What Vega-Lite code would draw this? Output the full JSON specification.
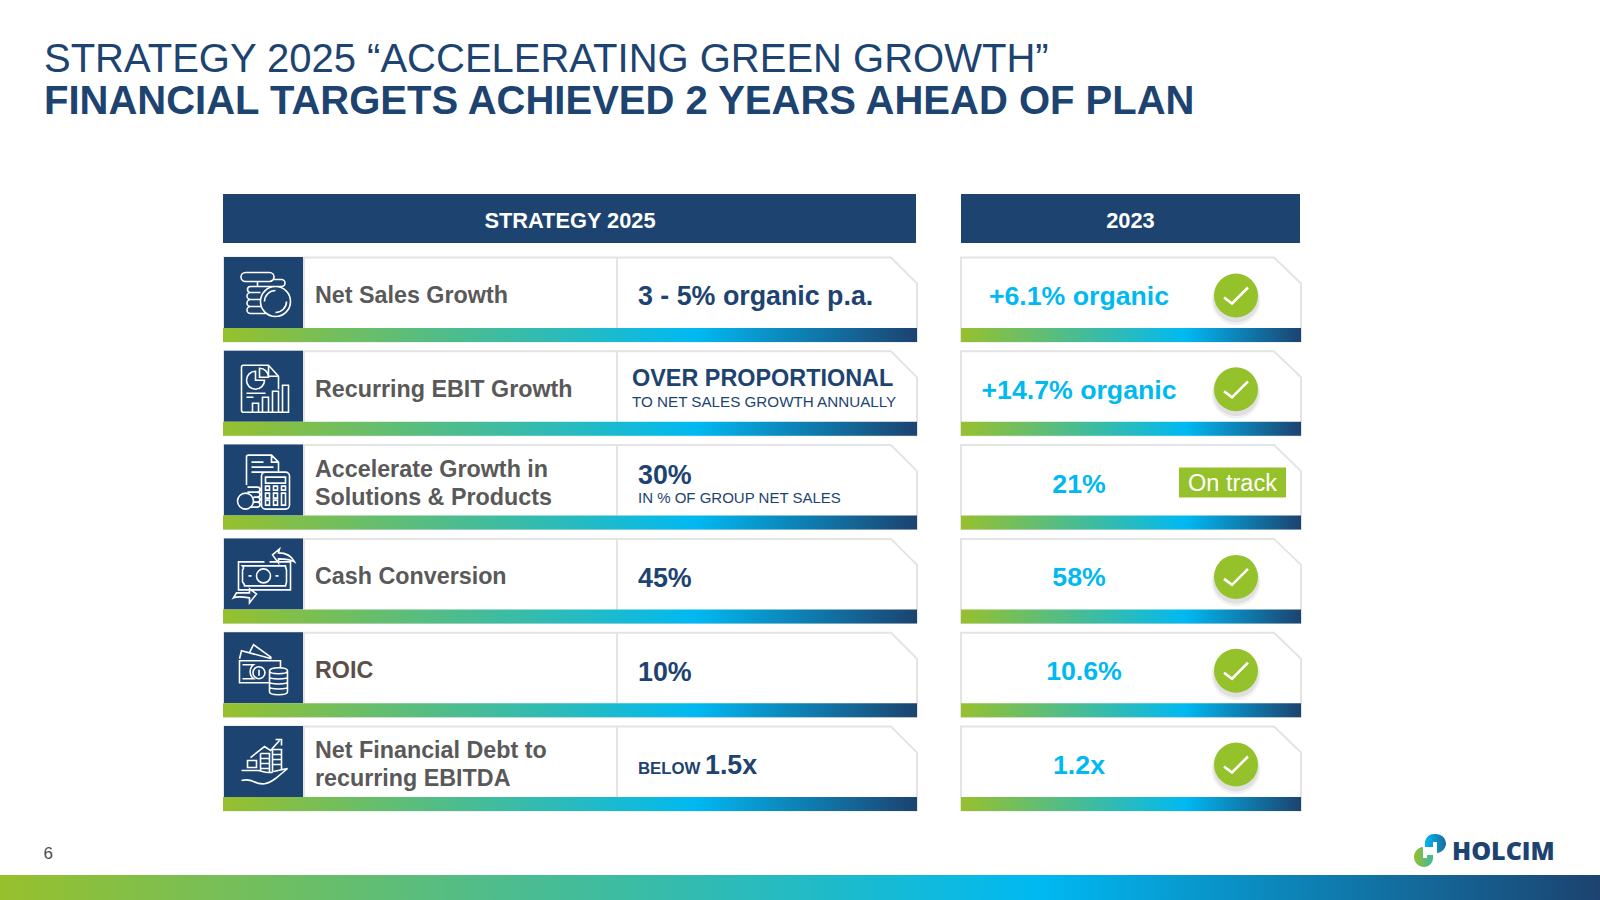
{
"$schema":"https://vega.github.io/schema/vega-lite/v6.json",
"width":1600,"height":900,"padding":0,"autosize":{"type":"none"},"background":"#ffffff",
"title":{"text":"STRATEGY 2025 “ACCELERATING GREEN GROWTH”","subtitle":"FINANCIAL TARGETS ACHIEVED 2 YEARS AHEAD OF PLAN","anchor":"start","frame":"group","orient":"top","dx":44,"offset":-122,"font":"Liberation Sans","fontSize":40,"fontWeight":"normal","color":"#1d4370","subtitleFont":"Liberation Sans","subtitleFontSize":40,"subtitleFontWeight":"bold","subtitleColor":"#1d4370","subtitlePadding":2},
"config":{"view":{"stroke":null},"text":{"font":"Liberation Sans"},"axis":{"grid":false}},
"datasets":{
"rows":[
{"metric":"Net Sales Growth","label":"Net Sales Growth","target":"3 - 5% organic p.a.","result":"+6.1% organic","status":"check"},
{"metric":"Recurring EBIT Growth","label":"Recurring EBIT Growth","target":"OVER PROPORTIONAL","note":"TO NET SALES GROWTH ANNUALLY","result":"+14.7% organic","status":"check"},
{"metric":"Accelerate Growth in Solutions & Products","label":"Accelerate Growth in\nSolutions & Products","target":"30%","note":"IN % OF GROUP NET SALES","result":"21%","status":"On track"},
{"metric":"Cash Conversion","label":"Cash Conversion","target":"45%","result":"58%","status":"check"},
{"metric":"ROIC","label":"ROIC","target":"10%","result":"10.6%","status":"check"},
{"metric":"Net Financial Debt to recurring EBITDA","label":"Net Financial Debt to\nrecurring EBITDA","prefix":"BELOW","target":"1.5x","result":"1.2x","status":"check"}
]},
"resolve":{"scale":{"y":"independent"}},
"layer":[
{"data":{"values":[{"kind":"slide"}]},
 "encoding":{"y":{"datum":875,"type":"quantitative","axis":null,"scale":{"domain":[0,900],"range":[0,900],"nice":false,"zero":false}}},
 "layer":[
  {"mark":{"type":"rect","fill":{"gradient":"linear","x1":0,"y1":0,"x2":1,"y2":0,"stops":[{"offset":0,"color":"#97c02d"},{"offset":0.65,"color":"#00b9f2"},{"offset":1,"color":"#1c4370"}]}},
   "encoding":{"x":{"datum":0,"type":"quantitative","axis":null,"scale":{"domain":[0,1600],"range":[0,1600],"nice":false,"zero":false}},"x2":{"datum":1600},"y":{"datum":875,"type":"quantitative"},"y2":{"datum":900}}},
  {"mark":{"type":"rect","fill":"#1d4370"},"encoding":{"x":{"datum":223,"type":"quantitative"},"x2":{"datum":916},"y":{"datum":194,"type":"quantitative"},"y2":{"datum":243}}},
  {"mark":{"type":"rect","fill":"#1d4370"},"encoding":{"x":{"datum":961,"type":"quantitative"},"x2":{"datum":1300},"y":{"datum":194,"type":"quantitative"},"y2":{"datum":243}}},
  {"mark":{"type":"text","fontSize":21.8,"fontWeight":"bold","fill":"#ffffff","baseline":"middle","align":"center"},"encoding":{"text":{"value":"STRATEGY 2025"},"x":{"datum":570,"type":"quantitative"},"y":{"datum":220.5,"type":"quantitative"}}},
  {"mark":{"type":"text","fontSize":21.8,"fontWeight":"bold","fill":"#ffffff","baseline":"middle","align":"center"},"encoding":{"text":{"value":"2023"},"x":{"datum":1130.5,"type":"quantitative"},"y":{"datum":220.5,"type":"quantitative"}}},
  {"mark":{"type":"text","fontSize":17,"fill":"#4d4d4d","baseline":"middle","align":"left"},"encoding":{"text":{"value":"6"},"x":{"datum":43.5,"type":"quantitative"},"y":{"datum":854,"type":"quantitative"}}},
  {"mark":{"type":"text","font":"Open Sans","fontSize":25,"fontWeight":800,"fill":"#1d4370","baseline":"middle","align":"left"},"encoding":{"text":{"value":"HOLCIM"},"x":{"datum":1452,"type":"quantitative"},"y":{"datum":852,"type":"quantitative"}}},
  {"mark":{"type":"point","filled":true,"opacity":1,"size":4,"strokeWidth":0,"shape":"M-5,-3V-8A9,9 0 0 1 5,-16A10,10 0 0 1 16,-6A10,10 0 0 1 7,3V-8H3V-3Z","fill":{"gradient":"linear","x1":0,"y1":0,"x2":1,"y2":0,"stops":[{"offset":0,"color":"#00b9f2"},{"offset":1,"color":"#1c6aa0"}]}},"encoding":{"x":{"datum":1430,"type":"quantitative"},"y":{"datum":850,"type":"quantitative"}}},
  {"mark":{"type":"point","filled":true,"opacity":1,"size":4,"strokeWidth":0,"shape":"M3,5V8A9,9 0 0 1 -6,17A10,10 0 0 1 -16,7A10,10 0 0 1 -7,-3V8H-3V5Z","fill":{"gradient":"linear","x1":0,"y1":0,"x2":1,"y2":0,"stops":[{"offset":0,"color":"#97c02d"},{"offset":1,"color":"#3fb8a0"}]}},"encoding":{"x":{"datum":1430,"type":"quantitative"},"y":{"datum":850,"type":"quantitative"}}}
 ]},
{"data":{"name":"rows"},
 "encoding":{"y":{"field":"metric","type":"nominal","axis":null,"sort":null,"scale":{"type":"band","domain":["Net Sales Growth","Recurring EBIT Growth","Accelerate Growth in Solutions & Products","Cash Conversion","ROIC","Net Financial Debt to recurring EBITDA"],"range":[257,811],"paddingInner":0.094,"paddingOuter":0}}},
 "layer":[
  {"mark":{"type":"point","filled":true,"opacity":1,"size":4,"fill":"#ffffff","stroke":"#e4e4e4","strokeWidth":2,"shape":"M0,42V-42H667L693,-16V42Z"},"encoding":{"x":{"datum":224,"type":"quantitative"}}},
  {"mark":{"type":"point","filled":true,"opacity":1,"size":4,"fill":"#ffffff","stroke":"#e4e4e4","strokeWidth":2,"shape":"M0,42V-42H313L340,-16V42Z"},"encoding":{"x":{"datum":961,"type":"quantitative"}}},
  {"mark":{"type":"rect","fill":"#e4e4e4","height":71,"yOffset":-7},"encoding":{"x":{"datum":616,"type":"quantitative"},"x2":{"datum":618}}},
  {"mark":{"type":"rect","fill":"#e4e4e4","height":71,"yOffset":-7},"encoding":{"x":{"datum":303,"type":"quantitative"},"x2":{"datum":305}}},
  {"mark":{"type":"rect","fill":"#1d4370","height":71,"yOffset":-7},"encoding":{"x":{"datum":224,"type":"quantitative"},"x2":{"datum":303}}},
  {"mark":{"type":"point","filled":false,"opacity":1,"size":4,"stroke":"#ffffff","strokeWidth":1.6,"yOffset":-7},
   "encoding":{"x":{"datum":263.5,"type":"quantitative"},"shape":{"field":"metric","type":"nominal","legend":null,"scale":{"domain":["Net Sales Growth","Recurring EBIT Growth","Accelerate Growth in Solutions & Products","Cash Conversion","ROIC","Net Financial Debt to recurring EBITDA"],"range":[
   "M-18,-20H6A4.5,4.5 0 0 1 6,-11H-18A4.5,4.5 0 0 1 -18,-20ZM-6,-11V-6H18A3.5,3.5 0 0 0 18,-13H9M-6,-6H-13A3,3 0 0 0 -13,0H-3M-13,0A3.5,3.5 0 0 0 -13,7H-3M-13,7A3.5,3.5 0 0 0 -13,14H-3M-13,14A3.5,3.5 0 0 0 -13,21H2M27,9A15,15 0 1 1 -3,9A15,15 0 1 1 27,9ZM1,9A11,11 0 0 1 12,-2M23,9A11,11 0 0 1 12,20",
   "M19,26H-20A2,2 0 0 1 -22,24V-19A2,2 0 0 1 -20,-21H5L15,-10V3M5,-21V-10H15M-8,-15A9,9 0 1 0 1,-6H-8ZM-4,-18A9,9 0 0 1 5,-9H-4ZM-17,7H2M-17,11H-10M19,26V-1H25V26H19M9,26V5H15V26M-1,26V11H5V26M-11,26V17H-5V26",
   "M-17,5V-23A2,2 0 0 1 -15,-25H8L15,-18V-8M8,-25V-18H15M-12,-13H10M-12,-8H4M-12,-18H0M2,-8H22A4,4 0 0 1 26,-4V25A4,4 0 0 1 22,29H2A4,4 0 0 1 -2,25V-4A4,4 0 0 1 2,-8ZM2,-3H22V3H2ZM2,6H6V10H2ZM10,6H14V10H10ZM18,6H22V10H18ZM2,13H6V18H2ZM10,13H14V18H10ZM18,13H22V25H18ZM2,20H6V25H2ZM10,20H14V25H10ZM-16,7H-6A2,2 0 0 1 -6,12H-16M-10,12H-6A2,2 0 0 1 -6,17H-10M-10,17H-6A2,2 0 0 1 -6,22H-10M-10,22H-6A2,2 0 0 1 -6,27H-14M-10,21A8,8 0 1 1 -26,21A8,8 0 1 1 -10,21Z",
   "M6,-12H27V16H-25V-12H1M-21,-8H22C22,-6 23,-5 23,-4V8C23,9 22,11 22,12H-19C-19,10 -20,9 -21,8V-4C-20,-5 -19,-6 -21,-8ZM7,2A7,7 0 1 1 -7,2A7,7 0 1 1 7,2ZM-15,2H-12M12,2H15M9,-19L16,-25L15,-21C23,-21 28,-18 31,-12C26,-15 21,-15 15,-15V-11ZM-7,20L-14,15V19H-27L-30,24C-26,22 -20,23 -14,24V29Z",
   "M6,15H-24V-7H17V0M-21,-3H-10A9,9 0 0 0 -10,11H-21M-4.5,-1A6,6 0 1 1 -4.6,11A6,6 0 1 1 -4.5,-1ZM-4.5,2V8M-24,-9L-22,-17L8,-9M-14,-15L-10,-23L8,-10M6,3C6,-1 24,-1 24,3C24,7 6,7 6,3ZM6,3V24C6,28 24,28 24,24V3M6,9C6,12 24,12 24,9M6,14C6,17 24,17 24,14M6,19C6,22 24,22 24,19",
   "M-22,9H-6C-2,9 0,11 5,11H9M10,10L24,7L12,17C4,23 -2,24 -10,20C-14,18 -18,18 -22,19M-16,-1V6H-7V-1ZM-3,-8V9M-3,-8H6V11M9,-12H18V9M9,-12V11M-3,-3H6M-3,2H6M-3,7H6M9,-7H18M9,-2H18M9,3H18M-13,-4L1,-15L7,-11L16,-21M12,-22H18V-16"
   ]}}}},
  {"transform":[{"filter":"datum.status==='check'"}],"mark":{"type":"point","filled":true,"opacity":0.05,"size":2400,"shape":"circle","fill":"#000000","strokeWidth":0,"yOffset":1},"encoding":{"x":{"datum":1236,"type":"quantitative"}}},
  {"transform":[{"filter":"datum.status==='check'"}],"mark":{"type":"point","filled":true,"opacity":0.07,"size":2100,"shape":"circle","fill":"#000000","strokeWidth":0,"yOffset":0},"encoding":{"x":{"datum":1236,"type":"quantitative"}}},
  {"transform":[{"filter":"datum.status==='check'"}],"mark":{"type":"point","filled":true,"opacity":1,"size":1936,"shape":"circle","fill":"#95c12b","strokeWidth":0,"yOffset":-4},"encoding":{"x":{"datum":1236,"type":"quantitative"}}},
  {"transform":[{"filter":"datum.status==='check'"}],"mark":{"type":"point","filled":false,"opacity":1,"size":4,"stroke":"#ffffff","strokeWidth":2.6,"shape":"M-12,2L-4,8L12,-8","yOffset":-4},"encoding":{"x":{"datum":1236,"type":"quantitative"}}},
  {"transform":[{"filter":"datum.status==='On track'"}],"mark":{"type":"rect","fill":"#95c12b","height":30,"yOffset":-4.5},"encoding":{"x":{"datum":1179,"type":"quantitative"},"x2":{"datum":1286}}},
  {"transform":[{"filter":"datum.status==='On track'"}],"mark":{"type":"text","fontSize":23.5,"fill":"#ffffff","baseline":"middle","align":"center","yOffset":-3.5},"encoding":{"x":{"datum":1232.5,"type":"quantitative"},"text":{"field":"status"}}},
  {"mark":{"type":"rect","height":14,"yOffset":35.5,"fill":{"gradient":"linear","x1":0,"y1":0,"x2":1,"y2":0,"stops":[{"offset":0,"color":"#97c02d"},{"offset":0.68,"color":"#00b9f2"},{"offset":1,"color":"#1c4370"}]}},"encoding":{"x":{"datum":223,"type":"quantitative"},"x2":{"datum":917}}},
  {"mark":{"type":"rect","height":14,"yOffset":35.5,"fill":{"gradient":"linear","x1":0,"y1":0,"x2":1,"y2":0,"stops":[{"offset":0,"color":"#97c02d"},{"offset":0.66,"color":"#00b9f2"},{"offset":1,"color":"#1c4370"}]}},"encoding":{"x":{"datum":961,"type":"quantitative"},"x2":{"datum":1301}}},
  {"transform":[{"filter":"indexof(datum.label,'\\n')<0"}],"mark":{"type":"text","fontSize":23.3,"fontWeight":"bold","baseline":"middle","align":"left","yOffset":-3.5},"encoding":{"x":{"datum":315,"type":"quantitative"},"text":{"field":"label"},"color":{"condition":{"test":"datum.metric==='ROIC'","value":"#5b4f47"},"value":"#595959"}}},
  {"transform":[{"filter":"indexof(datum.label,'\\n')>=0"}],"mark":{"type":"text","fontSize":23.3,"fontWeight":"bold","baseline":"middle","align":"left","lineBreak":"\n","lineHeight":28,"yOffset":-17.5},"encoding":{"x":{"datum":315,"type":"quantitative"},"text":{"field":"label"},"color":{"value":"#595959"}}},
  {"transform":[{"filter":"!datum.note && !datum.prefix"}],"mark":{"type":"text","fontSize":26.8,"fontWeight":"bold","fill":"#1d4370","baseline":"middle","align":"left","yOffset":-2},"encoding":{"x":{"datum":638,"type":"quantitative"},"text":{"field":"target"}}},
  {"transform":[{"filter":"datum.metric==='Recurring EBIT Growth'"}],"mark":{"type":"text","fontSize":23.4,"fontWeight":"bold","fill":"#1d4370","baseline":"middle","align":"left","yOffset":-14},"encoding":{"x":{"datum":632,"type":"quantitative"},"text":{"field":"target"}}},
  {"transform":[{"filter":"datum.metric==='Recurring EBIT Growth'"}],"mark":{"type":"text","fontSize":15.2,"fill":"#1d4370","baseline":"middle","align":"left","yOffset":8.5},"encoding":{"x":{"datum":632,"type":"quantitative"},"text":{"field":"note"}}},
  {"transform":[{"filter":"datum.metric==='Accelerate Growth in Solutions & Products'"}],"mark":{"type":"text","fontSize":26.8,"fontWeight":"bold","fill":"#1d4370","baseline":"middle","align":"left","yOffset":-11},"encoding":{"x":{"datum":638,"type":"quantitative"},"text":{"field":"target"}}},
  {"transform":[{"filter":"datum.metric==='Accelerate Growth in Solutions & Products'"}],"mark":{"type":"text","fontSize":15,"fill":"#1d4370","baseline":"middle","align":"left","yOffset":11},"encoding":{"x":{"datum":638,"type":"quantitative"},"text":{"field":"note"}}},
  {"transform":[{"filter":"datum.prefix"}],"mark":{"type":"text","fontSize":16.8,"fontWeight":"bold","fill":"#1d4370","baseline":"middle","align":"left","yOffset":0},"encoding":{"x":{"datum":638,"type":"quantitative"},"text":{"field":"prefix"}}},
  {"transform":[{"filter":"datum.prefix"}],"mark":{"type":"text","fontSize":26.8,"fontWeight":"bold","fill":"#1d4370","baseline":"middle","align":"left","yOffset":-3},"encoding":{"x":{"datum":705,"type":"quantitative"},"text":{"field":"target"}}},
  {"transform":[{"filter":"datum.metric!=='ROIC'"}],"mark":{"type":"text","fontSize":26.7,"fontWeight":"bold","fill":"#00b9f2","baseline":"middle","align":"center","yOffset":-2.5},"encoding":{"x":{"datum":1079,"type":"quantitative"},"text":{"field":"result"}}},
  {"transform":[{"filter":"datum.metric==='ROIC'"}],"mark":{"type":"text","fontSize":26.7,"fontWeight":"bold","fill":"#00b9f2","baseline":"middle","align":"center","yOffset":-3},"encoding":{"x":{"datum":1084,"type":"quantitative"},"text":{"field":"result"}}}
 ]}
]}
